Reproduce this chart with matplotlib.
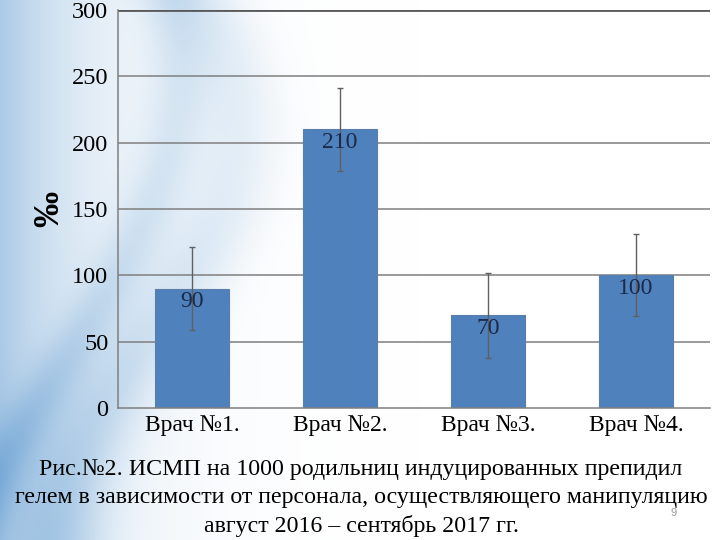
import numpy as np
import matplotlib
matplotlib.use("Agg")
import matplotlib.pyplot as plt

categories = ["Врач №1.", "Врач №2.", "Врач №3.", "Врач №4."]
values = [90, 210, 70, 100]
errors = [31, 31, 32, 31]
yticks = [0, 50, 100, 150, 200, 250, 300]
caption_lines = ["Рис.№2. ИСМП на 1000 родильниц индуцированных препидил",
                 "гелем в зависимости от персонала, осуществляющего манипуляцию",
                 "август 2016 – сентябрь 2017 гг."]

plt.rcParams['font.family'] = ['Liberation Serif', 'DejaVu Serif']

fig = plt.figure(figsize=(7.2, 5.4), dpi=100)

# decorative background (light blue swirl on the left)
bg = fig.add_axes([0, 0, 1, 1], zorder=-10)
H, W = 540, 720
yy, xx = np.mgrid[0:H, 0:W]
base = np.exp(-xx / 110.0) * 0.55
curve1 = 150 + 90 * np.sin(yy / 540 * np.pi * 1.3 + 0.6)
band1 = np.exp(-((xx - curve1) / 45.0) ** 2) * 0.35
curve2 = 60 + 120 * np.sin(yy / 540 * np.pi * 0.9 + 1.2)
band2 = np.exp(-((xx - curve2) / 30.0) ** 2) * 0.3
inten = np.clip(base + band1 + band2, 0, 1) * np.clip(1 - xx / 420.0, 0, 1)
white = np.array([1.0, 1.0, 1.0])
blue = np.array([0.40, 0.62, 0.82])
img = white[None, None, :] * (1 - inten[..., None]) + blue[None, None, :] * inten[..., None]
bg.imshow(img, aspect='auto', extent=[0, 1, 0, 1], origin='upper')
bg.axis('off')

ax = fig.add_axes([118 / 720, 1 - 408 / 540, (710 - 118) / 720, (408 - 10) / 540])
ax.patch.set_alpha(0)

x = np.arange(len(categories))
ax.bar(x, values, width=0.5, color='#4f81bd', edgecolor='#5a7fa8', linewidth=0.8, zorder=2)
ax.errorbar(x, values, yerr=errors, fmt='none', ecolor='#606060', elinewidth=1,
            capsize=2.5, capthick=1, zorder=4)
for xi, v in zip(x, values):
    ax.text(xi, v - 10, str(v), ha='center', va='center', fontsize=17,
            color='#1b2a48', zorder=5)

ax.set_xlim(-0.5, 3.5)
ax.set_ylim(0, 300)
ax.set_yticks(yticks)
ax.set_yticklabels([str(t) for t in yticks], fontsize=17.5)
ax.set_xticks(x)
ax.set_xticklabels(categories, fontsize=17)
ax.tick_params(axis='both', length=0)
ax.tick_params(axis='y', pad=7)
ax.tick_params(axis='x', pad=5)
for t in yticks[1:-1]:
    ax.axhline(t, color='#7f7f7f', linewidth=1.1, zorder=1)
ax.axhline(300, color='#595959', linewidth=2, zorder=1)
for s in ['top', 'right']:
    ax.spines[s].set_visible(False)
ax.spines['left'].set_color('#7f7f7f')
ax.spines['bottom'].set_color('#7f7f7f')
ax.spines['left'].set_linewidth(1.1)
ax.spines['bottom'].set_linewidth(1.1)

fig.text(50 / 720, 1 - 209 / 540, "‰", rotation=90, fontsize=26, fontweight='bold',
         ha='center', va='center')

for yline, line in zip([469, 498, 526], caption_lines):
    fig.text(361 / 720, 1 - yline / 540, line, ha='center', va='center', fontsize=17.2)
fig.text(674 / 720, 1 - 513 / 540, "9", ha='center', va='center', fontsize=8,
         color='#9a9a9a', family=['Liberation Sans', 'DejaVu Sans'])

fig.savefig("out.png", dpi=100)
